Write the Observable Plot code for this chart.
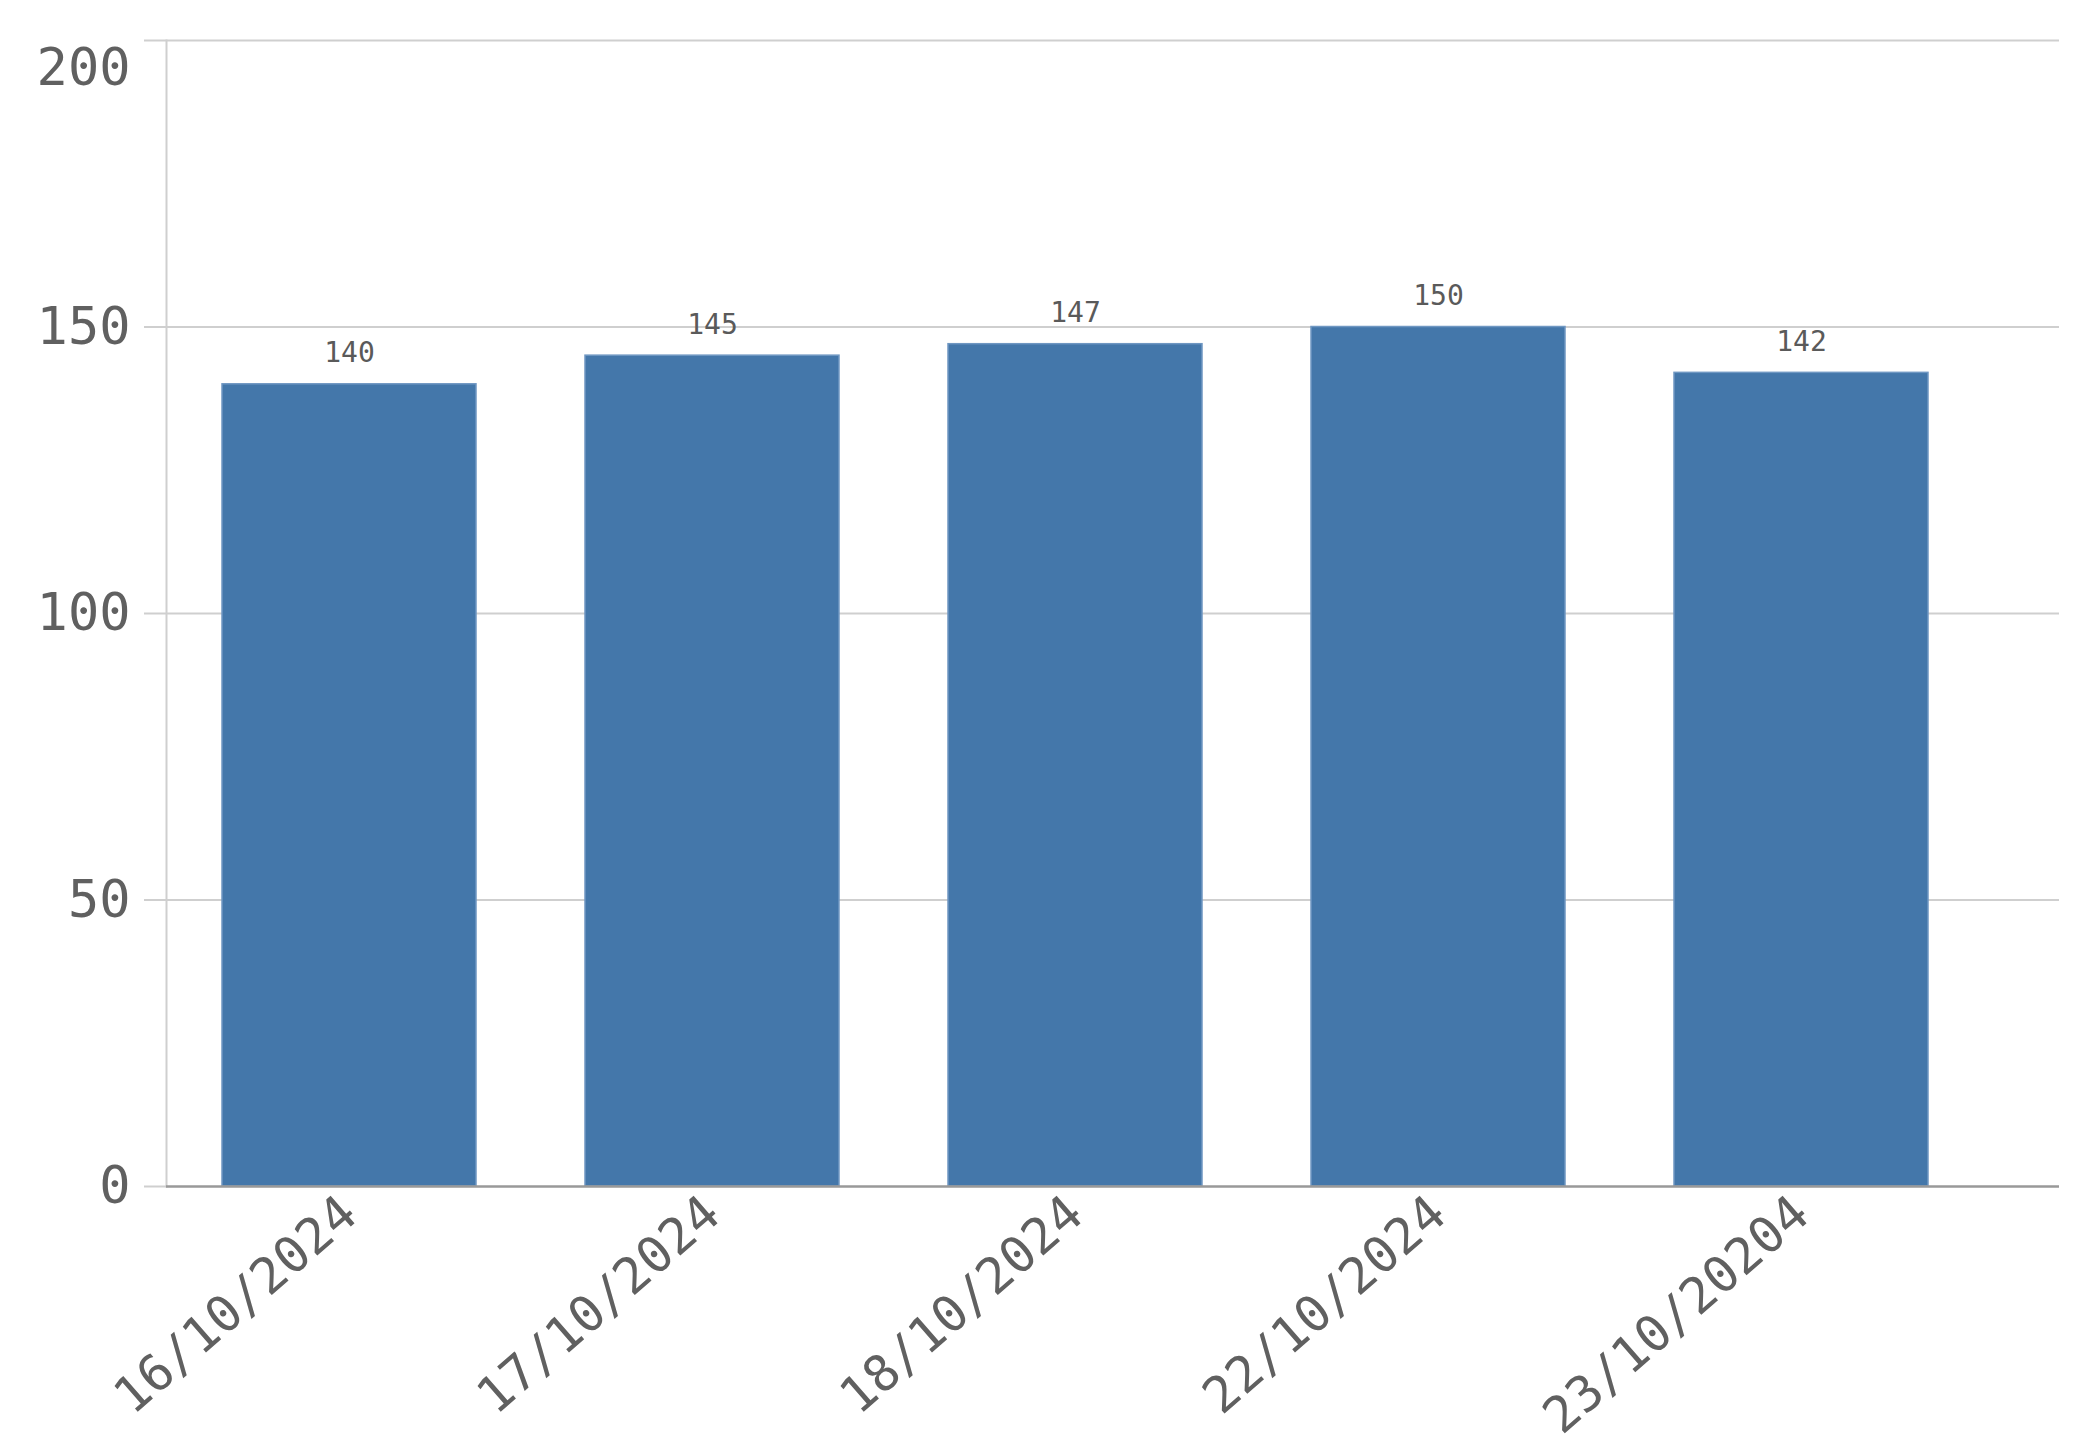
<!DOCTYPE html>
<html>
<head>
<meta charset="utf-8">
<script src="https://cdn.jsdelivr.net/npm/d3@7"></script>
<script src="https://cdn.jsdelivr.net/npm/@observablehq/plot@0.6"></script>
<style>
  html, body { margin: 0; padding: 0; background: #fff; }
</style>
</head>
<body>
<div id="chart"></div>
<script>
const dates = ["16/10/2024", "17/10/2024", "18/10/2024", "22/10/2024", "23/10/20204"];
const values = [140, 145, 147, 150, 142];
const yTicks = [0, 50, 100, 150, 200];

const data = dates.map((d, i) => ({date: d, value: values[i]}));

const chart = Plot.plot({
  width: 2086,
  height: 1454,
  marginLeft: 166,
  marginRight: 27,
  marginTop: 40,
  marginBottom: 268,
  style: {fontFamily: "'DejaVu Sans Mono', monospace", background: "#fff"},
  x: {type: "band", domain: dates, range: [166, 1985], paddingInner: 0.3, paddingOuter: 0.15},
  y: {domain: [0, 200], label: null},
  marks: [
    Plot.ruleY(yTicks.filter(t => t > 0), {stroke: "#cfcfcf", strokeWidth: 2}),
    Plot.frame({anchor: "left", stroke: "#cfcfcf", strokeWidth: 2}),
    Plot.axisY({ticks: yTicks, tickSize: 22, stroke: "#cfcfcf", strokeWidth: 2, tickFormat: () => "", label: null}),
    Plot.axisY({ticks: yTicks.filter(t => t < 200), tickSize: 0, tickPadding: 36, fontSize: 52, fill: "#606060", label: null}),
    Plot.axisY({ticks: yTicks.filter(t => t === 200), tickSize: 0, tickPadding: 36, fontSize: 52, fill: "#606060", dy: 28, label: null}),
    Plot.barY(data, {x: "date", y: "value", fill: "#4477aa", stroke: "#6f97c2", strokeWidth: 1.5}),
    Plot.ruleY([0], {stroke: "#999", strokeWidth: 2.5}),
    Plot.text(data, {x: "date", y: "value", text: d => String(d.value), dy: -31, fontSize: 28, fill: "#5a5a5a"}),
    Plot.axisX({tickRotate: -41, tickSize: 0, tickPadding: 20, fontSize: 50, fill: "#606060", label: null})
  ]
});
document.getElementById("chart").appendChild(chart);
</script>
</body>
</html>
